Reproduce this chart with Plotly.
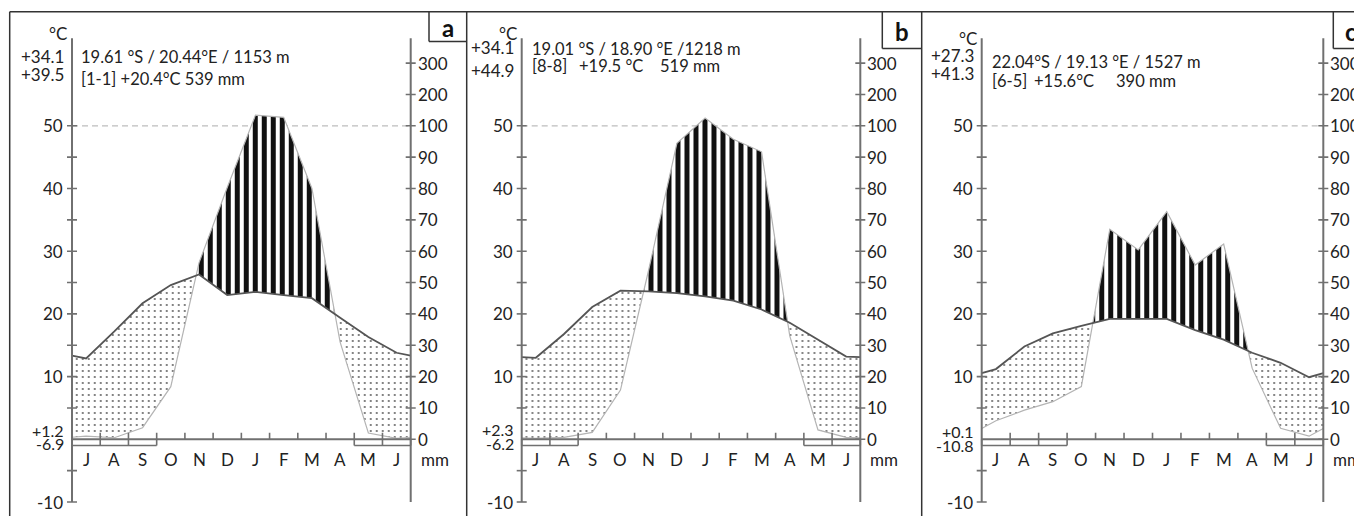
import plotly.graph_objects as go

# ---------------- data ----------------
months = ["J", "A", "S", "O", "N", "D", "J", "F", "M", "A", "M", "J"]

temp_a = [12.9, 17.2, 21.7, 24.6, 26.3, 23.0, 23.5, 23.0, 22.5, 19.4, 16.3, 13.8]
prec_a = [1.0, 0.5, 3.7, 16.8, 56.3, 80.3, 134.0, 127.0, 80.0, 31.0, 2.0, 0.3]
frost_a = [0, 1, 2, 10, 11]

temp_b = [13.0, 16.8, 21.1, 23.7, 23.6, 23.3, 22.8, 22.1, 20.7, 18.6, 15.9, 13.2]
prec_b = [0.3, 0.6, 2.2, 15.7, 54.0, 94.4, 125.0, 95.7, 91.7, 33.0, 3.0, 0.6]
frost_b = [0, 1, 10, 11]

temp_c = [11.2, 14.8, 16.9, 18.1, 19.2, 19.2, 19.2, 17.4, 15.9, 13.8, 12.2, 9.9]
prec_c = [5.9, 9.3, 12.0, 16.8, 67.0, 60.4, 72.6, 55.6, 62.3, 22.7, 3.5, 1.0]
frost_c = [0, 1, 2, 10, 11]

left_ticks = [-10, 10, 20, 30, 40, 50]
right_ticks = [0, 10, 20, 30, 40, 50, 60, 70, 80, 90, 100, 200, 300]

station_a = ["19.61 °S / 20.44°E / 1153 m", "[1-1] +20.4°C 539 mm"]
station_b = ["19.01 °S / 18.90 °E /1218 m", "[8-8]", "+19.5 °C", "519 mm"]
station_c = ["22.04°S / 19.13 °E / 1527 m", "[6-5]", "+15.6°C", "390 mm"]
extremes_a = ["+34.1", "+39.5", "+1.2", "-6.9"]
extremes_b = ["+34.1", "+44.9", "+2.3", "-6.2"]
extremes_c = ["+27.3", "+41.3", "+0.1", "-10.8"]

# ---------------- layout constants ----------------
W, H = 1362, 516
OFF = 8.0                 # page body margin of the html page
FW, FH = W - OFF, H - OFF  # figure size
Y0 = 439.3
PXD = 6.27
YLO = (Y0 - H) / PXD
YHI = (Y0 - OFF) / PXD
FONT = "Lato"
TXT = "#222222"
AXC = "#707070"


def p_disp(p):
    return p / 2.0 if p <= 100 else 50.0 + (p - 100.0) / 20.0


def px(x):
    return (x - OFF) / FW


def py(y):
    return 1 - (y - OFF) / FH


def yv(ypix):
    return (Y0 - ypix) / PXD


def with_ends(vals):
    e = (vals[0] + vals[-1]) / 2.0
    return [e] + list(vals) + [e]


def merge(x, t, p):
    X, T, P = [x[0]], [t[0]], [p[0]]
    for i in range(len(x) - 1):
        d0 = p[i] - t[i]
        d1 = p[i + 1] - t[i + 1]
        if d0 * d1 < 0:
            f = d0 / (d0 - d1)
            xc = x[i] + f * (x[i + 1] - x[i])
            tc = t[i] + f * (t[i + 1] - t[i])
            X.append(xc); T.append(tc); P.append(tc)
        X.append(x[i + 1]); T.append(t[i + 1]); P.append(p[i + 1])
    return X, T, P


def regions(X, top, bot):
    xs, ys = [], []
    run = []

    def flush(r):
        if len(r) > 1:
            xs.extend([X[i] for i in r] + [X[i] for i in reversed(r)] + [X[r[0]], None])
            ys.extend([top[i] for i in r] + [bot[i] for i in reversed(r)] + [top[r[0]], None])

    for i in range(len(X)):
        if top[i] >= bot[i] - 1e-9:
            run.append(i)
        else:
            flush(run)
            run = []
    flush(run)
    return xs, ys


panels = [
    dict(key="a", temp=temp_a, prec=prec_a, frost=frost_a, st=station_a, ex=extremes_a,
         border=9.7, lax=72.0, rax=410.7, lab_box=(429.0, 41.5),
         deg_y=33.5, ex_y=(56.7, 74.0), low_y=(430.5, 443.0),
         st_x=79.0, st_y=(56.7, 79.0)),
    dict(key="b", temp=temp_b, prec=prec_b, frost=frost_b, st=station_b, ex=extremes_b,
         border=466.7, lax=521.7, rax=860.3, lab_box=(882.3, 48.5),
         deg_y=33.5, ex_y=(48.0, 70.0), low_y=(429.5, 443.0),
         st_x=530.0, st_y=(48.8, 66.0), st2_x=(530.0, 576.5, 658.0)),
    dict(key="c", temp=temp_c, prec=prec_c, frost=frost_c, st=station_c, ex=extremes_c,
         border=921.7, lax=981.7, rax=1323.3, lab_box=(1333.3, 48.5),
         deg_y=38.5, ex_y=(55.8, 73.3), low_y=(431.5, 445.5),
         st_x=990.0, st_y=(61.7, 81.0), st2_x=(990.0, 1031.5, 1114.0)),
]

fig = go.Figure()
shapes = []
annotations = []
layout_axes = {}

for idx, pn in enumerate(panels):
    sfx = "" if idx == 0 else str(idx + 1)
    xa = "x" + sfx
    ppm = (pn["rax"] - pn["lax"]) / 12.0
    dom = [px(pn["lax"] - ppm), px(pn["rax"] + ppm)]
    layout_axes["xaxis" + sfx] = dict(domain=dom, range=[-1, 13], visible=False,
                                      fixedrange=True, anchor="y")

    xn = [0.0] + [i + 0.5 for i in range(12)] + [12.0]
    tn = with_ends(pn["temp"])
    pn_mm = with_ends(pn["prec"])
    pdn = [p_disp(v) for v in pn_mm]
    X, T, P = merge(xn, tn, pdn)

    ax_, ay_ = regions(X, T, P)  # arid: temp above precip
    hx_, hy_ = regions(X, P, T)  # humid: precip above temp

    fig.add_trace(go.Scatter(
        x=ax_, y=ay_, xaxis=xa, yaxis="y", mode="lines", fill="toself",
        line=dict(width=0, color="rgba(0,0,0,0)"), fillcolor="rgba(255,255,255,0)",
        fillpattern=dict(shape=".", size=6, solidity=0.08, fgcolor="#555555", fgopacity=1,
                         bgcolor="rgba(255,255,255,0)"),
        hoverinfo="skip", showlegend=False))
    fig.add_trace(go.Scatter(
        x=hx_, y=hy_, xaxis=xa, yaxis="y", mode="lines", fill="toself",
        line=dict(width=0, color="rgba(0,0,0,0)"), fillcolor="white",
        fillpattern=dict(shape="|", size=9, solidity=0.55, fgcolor="#111111", fgopacity=1,
                         bgcolor="white"),
        hoverinfo="skip", showlegend=False))
    fig.add_trace(go.Scatter(
        x=xn, y=pdn, xaxis=xa, yaxis="y", mode="lines",
        line=dict(color="#b4b4b4", width=1.2), hoverinfo="skip", showlegend=False))
    fig.add_trace(go.Scatter(
        x=xn, y=tn, xaxis=xa, yaxis="y", mode="lines",
        line=dict(color="#555555", width=1.8), hoverinfo="skip", showlegend=False))

    # dashed 50 °C / 100 mm line
    shapes.append(dict(type="line", xref=xa, yref="y", x0=0, x1=12, y0=50, y1=50,
                       line=dict(color="#bdbdbd", width=1.3, dash="6px,4px"), layer="below"))
    # axes
    top_v = yv(38.3)
    for xx in (0, 12):
        shapes.append(dict(type="line", xref=xa, yref="y", x0=xx, x1=xx, y0=-10, y1=top_v,
                           line=dict(color=AXC, width=2)))
    shapes.append(dict(type="line", xref=xa, yref="y", x0=0, x1=12, y0=0, y1=0,
                       line=dict(color=AXC, width=2)))
    tk = 5.0 / ppm
    for t in range(-10, 51, 5):
        if t == 0:
            continue
        shapes.append(dict(type="line", xref=xa, yref="y", x0=-tk, x1=tk, y0=t, y1=t,
                           line=dict(color=AXC, width=1.6)))
    for m in right_ticks:
        yd = p_disp(m)
        shapes.append(dict(type="line", xref=xa, yref="y", x0=12 - tk, x1=12 + tk, y0=yd, y1=yd,
                           line=dict(color=AXC, width=1.6)))
    for k in range(1, 12):
        shapes.append(dict(type="line", xref=xa, yref="y", x0=k, x1=k, y0=0, y1=1.05,
                           line=dict(color=AXC, width=1.6)))
    # frost boxes
    fr = sorted(pn["frost"])
    runs = []
    for m in fr:
        if runs and m == runs[-1][-1] + 1:
            runs[-1].append(m)
        else:
            runs.append([m])
    for r in runs:
        a0, a1 = r[0], r[-1] + 1
        shapes.append(dict(type="line", xref=xa, yref="y", x0=a0, x1=a1, y0=-1.0, y1=-1.0,
                           line=dict(color=AXC, width=1.6)))
        for k in range(a0, a1 + 1):
            shapes.append(dict(type="line", xref=xa, yref="y", x0=k, x1=k, y0=0, y1=-1.0,
                               line=dict(color=AXC, width=1.6)))

    fnt = dict(family=FONT, size=17, color=TXT)
    # tick labels
    for t in left_ticks:
        annotations.append(dict(xref=xa, yref="y", x=0, y=t, text=str(t), showarrow=False,
                                xanchor="right", yanchor="middle", xshift=-7, font=fnt))
    for m in right_ticks:
        annotations.append(dict(xref=xa, yref="y", x=12, y=p_disp(m), text=str(m), showarrow=False,
                                xanchor="left", yanchor="middle", xshift=5, font=fnt))
    for k, lab in enumerate(months):
        annotations.append(dict(xref=xa, yref="y", x=k + 0.5, y=yv(459.0), text=lab, showarrow=False,
                                xanchor="center", yanchor="middle", font=fnt))
    annotations.append(dict(xref=xa, yref="y", x=12, y=yv(459.0), text="mm", showarrow=False,
                            xanchor="left", yanchor="middle", xshift=8, font=fnt))

    # extremes / unit labels (left side)
    rx = pn["lax"] - 5.5
    annotations.append(dict(xref="paper", yref="paper", x=px(pn["lax"] - 14), y=py(pn["deg_y"]),
                            text="°C", showarrow=False, xanchor="center", yanchor="middle", font=fnt))
    for txt, yy in zip(pn["ex"][:2], pn["ex_y"]):
        annotations.append(dict(xref="paper", yref="paper", x=px(rx), y=py(yy), text=txt,
                                showarrow=False, xanchor="right", yanchor="middle", font=fnt))
    for txt, yy in zip(pn["ex"][2:], pn["low_y"]):
        annotations.append(dict(xref="paper", yref="paper", x=px(rx), y=py(yy), text=txt,
                                showarrow=False, xanchor="right", yanchor="middle",
                                font=dict(family=FONT, size=16, color=TXT)))
    # station text
    sfnt = dict(family=FONT, size=16.5, color=TXT)
    annotations.append(dict(xref="paper", yref="paper", x=px(pn["st_x"]), y=py(pn["st_y"][0]),
                            text=pn["st"][0], showarrow=False, xanchor="left", yanchor="middle", font=sfnt))
    if len(pn["st"]) == 2:
        annotations.append(dict(xref="paper", yref="paper", x=px(pn["st_x"]), y=py(pn["st_y"][1]),
                                text=pn["st"][1], showarrow=False, xanchor="left", yanchor="middle",
                                font=sfnt))
    else:
        for txt, xx in zip(pn["st"][1:], pn["st2_x"]):
            annotations.append(dict(xref="paper", yref="paper", x=px(xx), y=py(pn["st_y"][1]),
                                    text=txt, showarrow=False, xanchor="left", yanchor="middle",
                                    font=sfnt))

    # panel border and label box
    shapes.append(dict(type="line", xref="paper", yref="paper", x0=px(pn["border"]), x1=px(pn["border"]),
                       y0=py(11.7), y1=py(H + 2), line=dict(color="#333333", width=1.5)))
    bx, by = pn["lab_box"]
    right_edge = panels[idx + 1]["border"] if idx < 2 else W + 5
    shapes.append(dict(type="line", xref="paper", yref="paper", x0=px(bx), x1=px(bx),
                       y0=py(11.7), y1=py(by), line=dict(color="#333333", width=1.5)))
    shapes.append(dict(type="line", xref="paper", yref="paper", x0=px(bx), x1=px(right_edge),
                       y0=py(by), y1=py(by), line=dict(color="#333333", width=1.5)))
    lab_x = (bx + right_edge) / 2 if idx < 2 else bx + 18
    annotations.append(dict(xref="paper", yref="paper", x=px(lab_x),
                            y=py((11.7 + by) / 2 + 1), text="<b>" + pn["key"] + "</b>", showarrow=False,
                            xanchor="center", yanchor="middle",
                            font=dict(family=FONT, size=24, color="#111111")))

shapes.append(dict(type="line", xref="paper", yref="paper", x0=px(9.7), x1=px(W + 5),
                   y0=py(11.7), y1=py(11.7), line=dict(color="#333333", width=1.5)))

fig.update_layout(
    width=FW, height=FH, margin=dict(l=0, r=0, t=0, b=0, pad=0),
    paper_bgcolor="white", plot_bgcolor="rgba(0,0,0,0)",
    yaxis=dict(domain=[0, 1], range=[YLO, YHI], visible=False, fixedrange=True),
    shapes=shapes, annotations=annotations, showlegend=False,
    **layout_axes,
)

fig.write_html("out.html")
